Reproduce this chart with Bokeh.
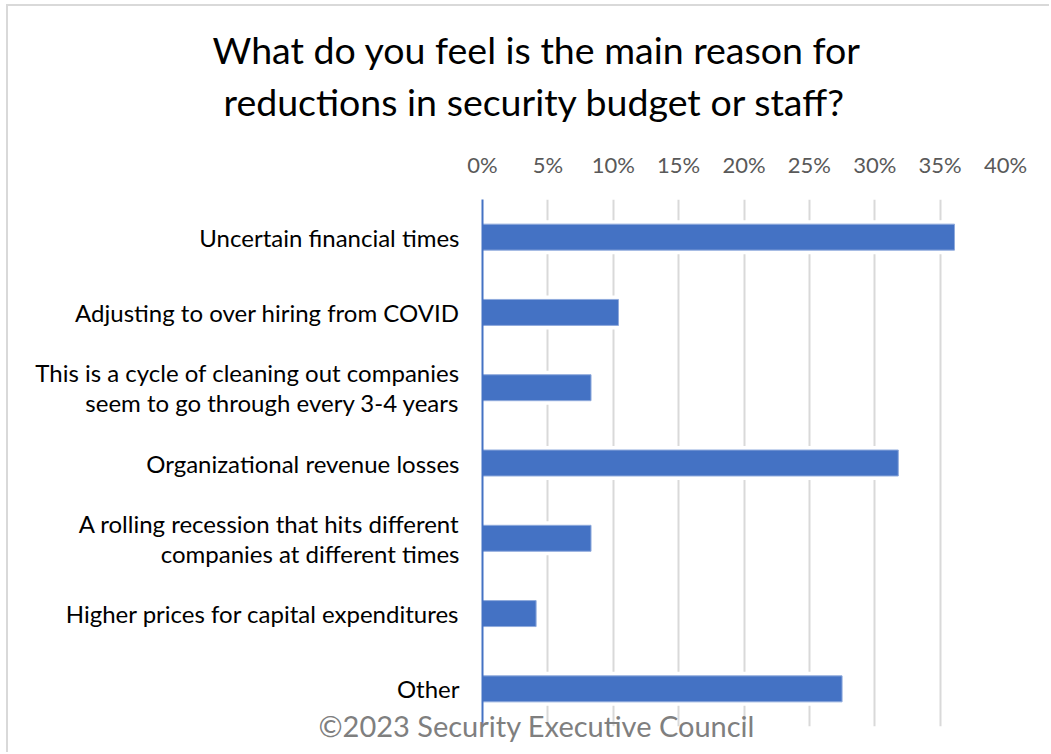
from bokeh.plotting import figure
from bokeh.models import FactorRange, Title, FixedTicker
from bokeh.embed import file_html
from bokeh.resources import INLINE

categories = [
    "Uncertain financial times",
    "Adjusting to over hiring from COVID",
    "This is a cycle of cleaning out companies\nseem to go through every 3-4 years",
    "Organizational revenue losses",
    "A rolling recession that hits different\ncompanies at different times",
    "Higher prices for capital expenditures",
    "Other",
]
values = [36.1, 10.4, 8.3, 31.8, 8.3, 4.1, 27.5]
tick_values = [0, 5, 10, 15, 20, 25, 30, 35, 40]
tick_labels = {t: f"{t}%" for t in tick_values}

FONT = "Lato"

p = figure(
    width=1043, height=748,
    y_range=FactorRange(*reversed(categories)),
    x_range=(0, 40),
    x_axis_location="above",
    output_backend="svg", toolbar_location=None,
    min_border_left=474, min_border_right=46, min_border_bottom=28, min_border_top=193,
)
p.margin = (4, 0, 0, 6)
p.styles = {"border-left": "2px solid #D9D9D9", "border-top": "2px solid #D9D9D9"}
p.outline_line_color = None
p.background_fill_color = "white"
p.border_fill_color = "white"

# white halo behind bars (interrupts gridlines like the original)
p.hbar(y=categories, right=values, left=0, height=0.345,
       fill_color="white", line_color="white", line_width=8)
p.hbar(y=categories, right=values, left=0, height=0.345,
       fill_color="#4472C4", line_color="#8FAADC", line_width=1)

xa = p.xaxis[0]
xa.ticker = FixedTicker(ticks=tick_values)
xa.major_label_overrides = {t: s for t, s in tick_labels.items()}
xa.axis_line_color = None
xa.major_tick_line_color = None
xa.major_tick_out = 0
xa.major_tick_in = 0
xa.minor_tick_line_color = None
xa.major_label_text_font = FONT
xa.major_label_text_font_size = "22px"
xa.major_label_text_color = "#595959"
xa.major_label_standoff = 22

ya = p.yaxis[0]
ya.axis_line_color = "#4472C4"
ya.axis_line_width = 2
ya.major_tick_line_color = None
ya.major_tick_out = 0
ya.major_tick_in = 0
ya.minor_tick_line_color = None
ya.major_label_text_font = FONT
ya.major_label_text_font_size = "24px"
ya.major_label_text_line_height = 1.05
ya.major_label_text_color = "#000000"
ya.major_label_standoff = 23

p.ygrid.grid_line_color = None
p.xgrid.grid_line_color = "#D9D9D9"
p.xgrid.grid_line_width = 2
p.xgrid.ticker = FixedTicker(ticks=tick_values)

t2 = Title(text="reductions in security budget or staff?", align="left", offset=-259,
           text_font=FONT, text_font_size="37.5px", text_font_style="normal",
           text_color="#000000", standoff=48)
t1 = Title(text="What do you feel is the main reason for", align="left", offset=-270,
           text_font=FONT, text_font_size="37.5px", text_font_style="normal",
           text_color="#000000", standoff=-38)
p.title.visible = False
p.add_layout(t2, "above")
p.add_layout(t1, "above")

credit = Title(text="©2023 Security Executive Council", align="left", offset=-164,
               vertical_align="top", standoff=-38,
               text_font=FONT, text_font_size="29px", text_font_style="normal",
               text_color="#7F7F7F")
p.add_layout(credit, "below")

open("out.html", "w").write(file_html(p, INLINE))
